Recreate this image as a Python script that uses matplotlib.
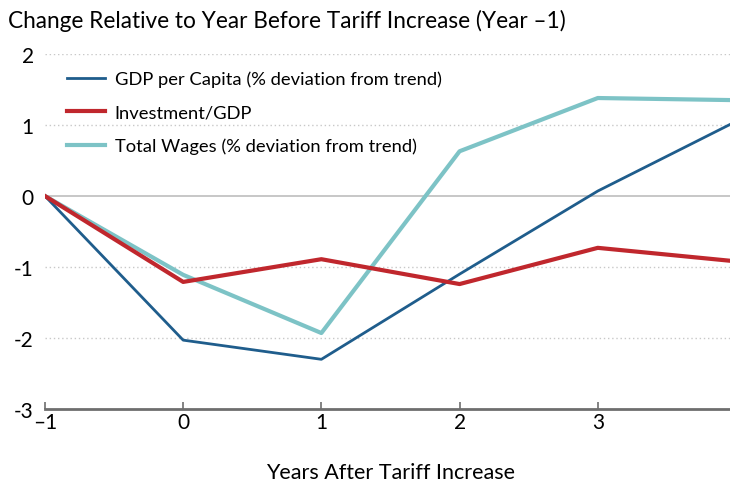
import matplotlib.pyplot as plt

plt.rcParams['font.family'] = ['Lato', 'DejaVu Sans']

years = [-1, 0, 1, 2, 3, 4]
gdp = [0, -2.03, -2.3, -1.1, 0.07, 1.05]
invest = [0, -1.21, -0.89, -1.24, -0.73, -0.92]
wages = [0, -1.11, -1.93, 0.63, 1.38, 1.35]

fig = plt.figure(figsize=(7.3, 4.85), dpi=100)
ax = fig.add_axes([0.0616, 0.1546, 0.9466, 0.732])

# grid: dotted at non-zero, solid at zero
for y in [2, 1, -1, -2]:
    ax.axhline(y, color='#c8c8c8', lw=1, ls=(0, (1, 2)), zorder=1)
ax.axhline(0, color='#bdbdbd', lw=1.2, zorder=1)

ax.plot(years, gdp, color='#1f5d8c', lw=2, label='GDP per Capita (% deviation from trend)', zorder=3)
ax.plot(years, invest, color='#c0272d', lw=3, label='Investment/GDP', zorder=3)
ax.plot(years, wages, color='#7dc3c6', lw=3, label='Total Wages (% deviation from trend)', zorder=2)

ax.set_xlim(-1, 4)
ax.set_ylim(-3, 2)
ax.set_xticks(years)
ax.set_xticklabels(['\u20131', '0', '1', '2', '3', '4'])
ax.set_yticks([-3, -2, -1, 0, 1, 2])
ax.set_yticklabels(['-3', '-2', '-1', '0', '1', '2'])

for s in ['top', 'right', 'left']:
    ax.spines[s].set_visible(False)
ax.spines['bottom'].set_color('#6e6e6e')
ax.spines['bottom'].set_linewidth(2)
ax.tick_params(axis='x', direction='in', length=5, width=1.2, color='#6e6e6e', labelsize=15, pad=2)
ax.tick_params(axis='y', length=0, labelsize=15, pad=8)

ax.set_xlabel('Years After Tariff Increase', fontsize=15.5, labelpad=22)
fig.text(0.011, 0.957, 'Change Relative to Year Before Tariff Increase (Year \u20131)', fontsize=16.3, va='center')

ax.legend(loc='upper left', bbox_to_anchor=(0.008, 1.0), frameon=False, fontsize=13.2,
          handlelength=2.1, handletextpad=0.5, labelspacing=0.95)

fig.savefig('out.png', dpi=100)
